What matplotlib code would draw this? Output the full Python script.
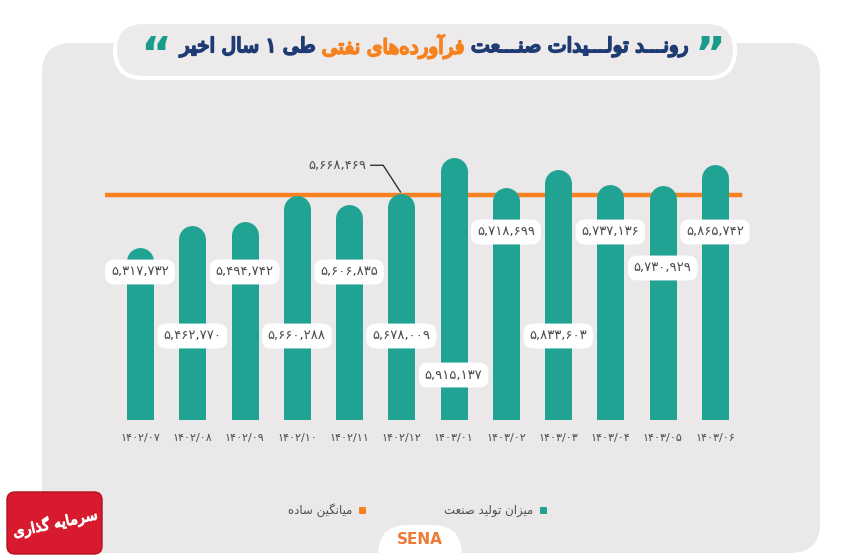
import matplotlib
matplotlib.use("Agg")
import matplotlib.pyplot as plt
import matplotlib.patheffects as pe
from matplotlib.patches import FancyBboxPatch

# data
months = ["۱۴۰۲/۰۷", "۱۴۰۲/۰۸", "۱۴۰۲/۰۹", "۱۴۰۲/۱۰", "۱۴۰۲/۱۱", "۱۴۰۲/۱۲",
          "۱۴۰۳/۰۱", "۱۴۰۳/۰۲", "۱۴۰۳/۰۳", "۱۴۰۳/۰۴", "۱۴۰۳/۰۵", "۱۴۰۳/۰۶"]
production = [5317732, 5462770, 5494742, 5660288, 5606835, 5678009,
              5915137, 5718699, 5833603, 5737136, 5730929, 5865742]
average = 5668469

title_parts = ["رونـــد تولـــیدات صنـــعت", "فرآورده‌های نفتی", "طی ۱ سال اخیر"]
legend_labels = ["میزان تولید صنعت", "میانگین ساده"]
logo_text = "سرمایه گذاری"

TEAL = "#21a394"
ORANGE = "#f5821f"
NAVY = "#1f3b73"
PANEL = "#ebe8ea"
TXT = "#4d4d4d"

# minimal arabic/persian shaping (matplotlib has no complex text layout)
# isolated, final, initial, medial
FORMS = {
    "ا": (0xFE8D, 0xFE8E, None, None), "آ": (0xFE81, 0xFE82, None, None),
    "ب": (0xFE8F, 0xFE90, 0xFE91, 0xFE92), "پ": (0xFB56, 0xFB57, 0xFB58, 0xFB59),
    "ت": (0xFE95, 0xFE96, 0xFE97, 0xFE98), "ث": (0xFE99, 0xFE9A, 0xFE9B, 0xFE9C),
    "ج": (0xFE9D, 0xFE9E, 0xFE9F, 0xFEA0), "ح": (0xFEA1, 0xFEA2, 0xFEA3, 0xFEA4),
    "خ": (0xFEA5, 0xFEA6, 0xFEA7, 0xFEA8), "د": (0xFEA9, 0xFEAA, None, None),
    "ذ": (0xFEAB, 0xFEAC, None, None), "ر": (0xFEAD, 0xFEAE, None, None),
    "ز": (0xFEAF, 0xFEB0, None, None), "س": (0xFEB1, 0xFEB2, 0xFEB3, 0xFEB4),
    "ش": (0xFEB5, 0xFEB6, 0xFEB7, 0xFEB8), "ص": (0xFEB9, 0xFEBA, 0xFEBB, 0xFEBC),
    "ط": (0xFEC1, 0xFEC2, 0xFEC3, 0xFEC4), "ع": (0xFEC9, 0xFECA, 0xFECB, 0xFECC),
    "ف": (0xFED1, 0xFED2, 0xFED3, 0xFED4), "ق": (0xFED5, 0xFED6, 0xFED7, 0xFED8),
    "ک": (0xFB8E, 0xFB8F, 0xFB90, 0xFB91), "گ": (0xFB92, 0xFB93, 0xFB94, 0xFB95),
    "ل": (0xFEDD, 0xFEDE, 0xFEDF, 0xFEE0), "م": (0xFEE1, 0xFEE2, 0xFEE3, 0xFEE4),
    "ن": (0xFEE5, 0xFEE6, 0xFEE7, 0xFEE8), "ه": (0xFEE9, 0xFEEA, 0xFEEB, 0xFEEC),
    "و": (0xFEED, 0xFEEE, None, None), "ی": (0xFEEF, 0xFEF0, 0xFEF3, 0xFEF4),
    "ـ": (0x640, 0x640, 0x640, 0x640),
}


def shape(s):
    out = []
    for i, c in enumerate(s):
        if c not in FORMS:
            if c != "\u200c":
                out.append(c)
            continue
        prev = s[i - 1] if i > 0 else ""
        nxt = s[i + 1] if i + 1 < len(s) else ""
        cp = prev in FORMS and FORMS[prev][2] is not None
        cn = nxt in FORMS and FORMS[c][2] is not None
        iso, fin, ini, med = FORMS[c]
        g = med if (cp and cn) else fin if cp else ini if cn else iso
        out.append(chr(g))
    return "".join(reversed(out))


def fa_num(v):
    return f"{v:,}".translate(str.maketrans("0123456789", "۰۱۲۳۴۵۶۷۸۹"))


def bold(col, w=1.1):
    # regular DejaVu has the arabic forms, the bold face lacks some
    return [pe.withStroke(linewidth=w, foreground=col)]


plt.rcParams["font.family"] = "DejaVu Sans"
fig = plt.figure(figsize=(8.5, 5.6), dpi=100)
fig.patch.set_facecolor("white")
inch = fig.dpi_scale_trans

# background panel and title pill
fig.add_artist(FancyBboxPatch((0.42, 0.07), 7.78, 5.10, boxstyle="round,pad=0,rounding_size=0.3",
                              fc=PANEL, ec="none", transform=inch, zorder=0))
fig.add_artist(FancyBboxPatch((1.15, 4.82), 6.2, 0.56, boxstyle="round,pad=0,rounding_size=0.28",
                              fc="#eceaeb", ec="white", lw=3, transform=inch, zorder=1))
fig.add_artist(FancyBboxPatch((3.78, -0.3), 0.84, 0.65, boxstyle="round,pad=0,rounding_size=0.3",
                              fc="white", ec="none", transform=inch, zorder=1))
fig.text(4.20 / 8.5, 0.20 / 5.6, "SENA", color="#ee7a36", fontsize=11, fontweight="bold",
         ha="center", va="center")

# red logo
fig.add_artist(FancyBboxPatch((0.07, 0.06), 0.95, 0.62, boxstyle="round,pad=0,rounding_size=0.08",
                              fc="#d81a2e", ec="#b01020", lw=1, transform=inch, zorder=2))
fig.text(0.55 / 8.5, 0.37 / 5.6, shape(logo_text), color="white", fontsize=10.5,
         ha="center", va="center", rotation=12, zorder=3, path_effects=bold("white", 0.8))

# title, right to left in three colours
fig.canvas.draw()
renderer = fig.canvas.get_renderer()
x_right = 690
for part, col in zip(title_parts, [NAVY, ORANGE, NAVY]):
    t = fig.text(x_right / 850, 1 - 47 / 560, shape(part), color=col, fontsize=14.5,
                 ha="right", va="center", zorder=3, path_effects=bold(col, 1.4))
    bb = t.get_window_extent(renderer)
    x_right = bb.x0 - 6
fig.text(710 / 850, 1 - 58 / 560, "”", color="#1a9c8c", fontsize=34, fontweight="bold",
         ha="center", va="center", zorder=3)
fig.text((x_right - 18) / 850, 1 - 58 / 560, "“", color="#1a9c8c", fontsize=34, fontweight="bold",
         ha="center", va="center", zorder=3)

# chart
ax = fig.add_axes([105 / 850, 140 / 560, 645 / 850, 280 / 560])
ax.set_facecolor("none")
ax.set_xlim(-0.67, 11.67)
ax.set_ylim(4.18e6, 6.03e6)
for s in ax.spines.values():
    s.set_visible(False)
ax.tick_params(left=False, bottom=False, labelleft=False)
ax.set_xticks(range(len(months)))
ax.set_xticklabels(months, fontsize=8, color=TXT)
ax.tick_params(axis="x", pad=6)

bar_px = 27
lw_pt = bar_px * 72 / fig.dpi
ymin, ymax = ax.get_ylim()
r_data = (bar_px / 2) * (ymax - ymin) / 280
for i, v in enumerate(production):
    ax.plot([i, i], [ymin - 3 * r_data, v - r_data], color=TEAL, lw=lw_pt,
            solid_capstyle="round", zorder=2)

ax.axhline(average, xmin=0.003, xmax=0.985, color=ORANGE, lw=3.2, zorder=1)

# value labels (pixel rows of the boxes, as in the infographic)
label_rows = [272, 336, 272, 336, 272, 336, 375, 232, 336, 232, 268, 232]
for i, (v, row) in enumerate(zip(production, label_rows)):
    ax.text(i, (420 - row) / 280, fa_num(v), transform=ax.get_xaxis_transform(), fontsize=9.5,
            color=TXT, ha="center", va="center", zorder=4,
            bbox=dict(boxstyle="round,pad=0.45,rounding_size=0.7", fc="white", ec="none"))

ax.annotate(fa_num(average), xy=(5, production[5]), xytext=(-35, 28), textcoords="offset pixels",
            fontsize=9.5, color=TXT, ha="right", va="center", zorder=4,
            arrowprops=dict(arrowstyle="-", color="#333333", lw=1,
                            connectionstyle="angle,angleA=0,angleB=123,rad=0",
                            shrinkA=1, shrinkB=1))

# legend
fig.add_artist(FancyBboxPatch((5.40, 0.46), 0.07, 0.07, boxstyle="round,pad=0,rounding_size=0.01",
                              fc=TEAL, ec="none", transform=inch, zorder=3))
fig.text(5.33 / 8.5, 0.495 / 5.6, shape(legend_labels[0]), color=TXT, fontsize=8.5,
         ha="right", va="center")
fig.add_artist(FancyBboxPatch((3.59, 0.46), 0.07, 0.07, boxstyle="round,pad=0,rounding_size=0.01",
                              fc=ORANGE, ec="none", transform=inch, zorder=3))
fig.text(3.52 / 8.5, 0.495 / 5.6, shape(legend_labels[1]), color=TXT, fontsize=8.5,
         ha="right", va="center")

fig.savefig("out.png", dpi=100)
